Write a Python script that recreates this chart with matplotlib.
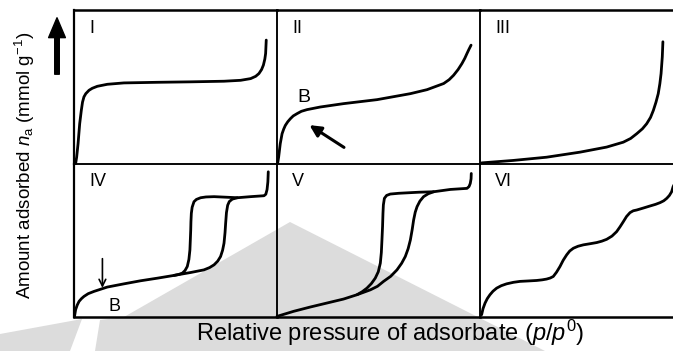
import matplotlib
matplotlib.use("Agg")
import matplotlib.pyplot as plt
from matplotlib.patches import Polygon, FancyArrowPatch

plt.rcParams['font.family'] = ['Liberation Sans', 'DejaVu Sans']
plt.rcParams['mathtext.fontset'] = 'custom'
plt.rcParams['mathtext.rm'] = 'Liberation Sans'
plt.rcParams['mathtext.it'] = 'Liberation Sans:italic'

# isotherm shapes, both axes scaled 0..1 (p/p0, amount)
panel_labels = ['I', 'II', 'III', 'IV', 'V', 'VI']

type1_x = [0.008, 0.013, 0.020, 0.028, 0.036, 0.042, 0.049, 0.058, 0.074, 0.090, 0.115,
           0.164, 0.246, 0.411, 0.575, 0.739, 0.821, 0.870, 0.895, 0.911, 0.924,
           0.933, 0.940, 0.944, 0.947]
type1_y = [0.0, 0.041, 0.129, 0.259, 0.346, 0.400, 0.434, 0.455, 0.477, 0.490, 0.503,
           0.516, 0.525, 0.529, 0.532, 0.536, 0.542, 0.553, 0.568, 0.586, 0.612,
           0.641, 0.680, 0.717, 0.804]

type2_x = [0.003, 0.008, 0.016, 0.025, 0.033, 0.041, 0.053, 0.066, 0.080, 0.099, 0.120,
           0.148, 0.213, 0.328, 0.493, 0.657, 0.739, 0.821, 0.848, 0.870, 0.892,
           0.911, 0.925, 0.936, 0.946, 0.956]
type2_y = [0.0, 0.041, 0.129, 0.194, 0.224, 0.248, 0.272, 0.292, 0.310, 0.325, 0.340,
           0.351, 0.368, 0.390, 0.416, 0.455, 0.481, 0.521, 0.546, 0.575, 0.612,
           0.651, 0.685, 0.717, 0.745, 0.771]

type3_x = [0.008, 0.164, 0.328, 0.493, 0.624, 0.706, 0.742, 0.772, 0.800, 0.821, 0.840,
           0.854, 0.867, 0.878, 0.886, 0.892, 0.898, 0.901]
type3_y = [0.004, 0.020, 0.041, 0.074, 0.107, 0.139, 0.163, 0.194, 0.226, 0.259, 0.300,
           0.346, 0.400, 0.455, 0.520, 0.586, 0.695, 0.793]

type4_ads_x = [0.002, 0.008, 0.016, 0.025, 0.037, 0.049, 0.070, 0.099, 0.164, 0.246,
               0.328, 0.411, 0.493, 0.575, 0.640, 0.668, 0.690, 0.708, 0.722, 0.732,
               0.739, 0.744, 0.747, 0.751, 0.757, 0.765, 0.780, 0.805, 0.870, 0.936,
               0.945, 0.951, 0.955, 0.957]
type4_ads_y = [0.0, 0.048, 0.078, 0.102, 0.120, 0.134, 0.152, 0.167, 0.195, 0.216,
               0.236, 0.253, 0.271, 0.290, 0.307, 0.322, 0.340, 0.364, 0.394, 0.435,
               0.481, 0.550, 0.610, 0.680, 0.728, 0.752, 0.768, 0.777, 0.784, 0.790,
               0.800, 0.830, 0.880, 0.946]
type4_des_x = [0.805, 0.740, 0.690, 0.650, 0.624, 0.603, 0.591, 0.582, 0.578, 0.576,
               0.575, 0.573, 0.571, 0.566, 0.558, 0.547, 0.534, 0.515, 0.493]
type4_des_y = [0.777, 0.781, 0.784, 0.782, 0.777, 0.766, 0.751, 0.715, 0.675, 0.620,
               0.567, 0.500, 0.437, 0.375, 0.329, 0.303, 0.286, 0.277, 0.271]

type5_ads_x = [0.0, 0.082, 0.164, 0.246, 0.328, 0.394, 0.460, 0.495, 0.525, 0.560, 0.591,
               0.614, 0.632, 0.646, 0.657, 0.666, 0.673, 0.681, 0.690, 0.704, 0.722,
               0.745, 0.772, 0.854, 0.936, 0.946, 0.952, 0.956, 0.957]
type5_ads_y = [0.004, 0.037, 0.065, 0.091, 0.117, 0.145, 0.177, 0.200, 0.232, 0.265, 0.307,
               0.350, 0.394, 0.445, 0.502, 0.570, 0.632, 0.683, 0.719, 0.755, 0.784,
               0.803, 0.816, 0.831, 0.838, 0.850, 0.870, 0.900, 0.935]
type5_des_x = [0.772, 0.700, 0.657, 0.600, 0.558, 0.540, 0.529, 0.524, 0.522, 0.520,
               0.517, 0.514, 0.509, 0.499, 0.484, 0.465, 0.443, 0.420, 0.394]
type5_des_y = [0.816, 0.813, 0.810, 0.806, 0.801, 0.792, 0.773, 0.730, 0.675, 0.590,
               0.502, 0.420, 0.351, 0.295, 0.253, 0.218, 0.188, 0.165, 0.145]

type6_x = [0.008, 0.015, 0.025, 0.036, 0.049, 0.064, 0.082, 0.105, 0.131, 0.165, 0.197,
           0.240, 0.279, 0.306, 0.328, 0.346, 0.361, 0.377, 0.394, 0.410, 0.427,
           0.442, 0.460, 0.483, 0.509, 0.545, 0.575, 0.600, 0.624, 0.650, 0.673,
           0.690, 0.706, 0.722, 0.739, 0.755, 0.772, 0.805, 0.837, 0.865, 0.887,
           0.905, 0.920, 0.933, 0.944, 0.951, 0.970]
type6_y = [0.015, 0.055, 0.091, 0.120, 0.145, 0.168, 0.188, 0.204, 0.216, 0.226, 0.232,
           0.235, 0.238, 0.242, 0.247, 0.254, 0.264, 0.292, 0.329, 0.370, 0.405,
           0.430, 0.448, 0.461, 0.470, 0.478, 0.485, 0.494, 0.506, 0.527, 0.556,
           0.588, 0.621, 0.655, 0.680, 0.692, 0.697, 0.710, 0.723, 0.734, 0.745,
           0.757, 0.773, 0.792, 0.816, 0.848, 0.900]

curves = [
    [(type1_x, type1_y)],
    [(type2_x, type2_y)],
    [(type3_x, type3_y)],
    [(type4_ads_x, type4_ads_y), (type4_des_x, type4_des_y)],
    [(type5_ads_x, type5_ads_y), (type5_des_x, type5_des_y)],
    [(type6_x, type6_y)],
]

W, H = 673, 351
fig = plt.figure(figsize=(W / 100, H / 100), dpi=100)


def fx(px):
    return px / W


def fy(py):
    return 1 - py / H


# faint watermark behind the panels
wm = Polygon([(fx(95), fy(351)), (fx(100), fy(320)), (fx(124), fy(317)), (fx(290), fy(222)),
              (fx(545), fy(351))],
             closed=True, transform=fig.transFigure, facecolor='#dcdcdc',
             edgecolor='none', zorder=-2)
fig.add_artist(wm)
wm2 = Polygon([(fx(0), fy(351)), (fx(0), fy(334)), (fx(82), fy(319)), (fx(70), fy(351))],
              closed=True, transform=fig.transFigure, facecolor='#dcdcdc',
              edgecolor='none', zorder=-2)
fig.add_artist(wm2)

col_left = [74, 277, 480]
row_top = [10, 163.5]
pw, ph = 203, 153.5

for i, label in enumerate(panel_labels):
    r, c = divmod(i, 3)
    x0 = col_left[c]
    y1 = row_top[r] + ph
    ax = fig.add_axes([fx(x0), fy(y1), pw / W, ph / H])
    ax.set_xlim(0, 1)
    ax.set_ylim(0, 1)
    ax.set_xticks([])
    ax.set_yticks([])
    ax.patch.set_alpha(0)
    for s in ax.spines.values():
        s.set_linewidth(1.1)
    if r == 0:
        ax.spines['top'].set_linewidth(1.8)
    if r == 1:
        ax.spines['bottom'].set_linewidth(1.8)
    if c == 0:
        ax.spines['left'].set_linewidth(1.6)

    for xs, ys in curves[i]:
        ax.plot(xs, ys, color='black', lw=2.0, solid_capstyle='round',
                solid_joinstyle='round', clip_on=c == 2)

    ax.text(0.075, 0.88, label, transform=ax.transAxes, fontsize=13,
            ha='left', va='center')

    if label == 'II':
        ax.text(0.13, 0.43, 'B', fontsize=14, ha='center', va='center')
        ax.annotate('', xy=(0.16, 0.25), xytext=(0.33, 0.105),
                    arrowprops=dict(arrowstyle='-|>', lw=2.2, color='black',
                                    mutation_scale=17, shrinkA=0, shrinkB=0))
    if label == 'IV':
        ax.text(0.2, 0.07, 'B', fontsize=13, ha='center', va='center')
        ax.annotate('', xy=(0.14, 0.19), xytext=(0.14, 0.38),
                    arrowprops=dict(arrowstyle='->', lw=1.2, color='black',
                                    mutation_scale=12, shrinkA=0, shrinkB=0))

# big "increasing" arrow next to the y label
big = FancyArrowPatch((fx(57), fy(77)), (fx(57), fy(15)), transform=fig.transFigure,
                      arrowstyle='simple,head_length=1.3,head_width=1.1,tail_width=0.3',
                      mutation_scale=11, color='black')
fig.add_artist(big)

fig.text(fx(25), fy(165), r'Amount adsorbed $n_\mathrm{a}$ (mmol g$^{-1}$)',
         rotation=90, fontsize=13.5, ha='center', va='center')
fig.text(fx(390), fy(333), r'Relative pressure of adsorbate ($p/p^0$)',
         fontsize=17, ha='center', va='center')

fig.savefig('out.png', dpi=100)
